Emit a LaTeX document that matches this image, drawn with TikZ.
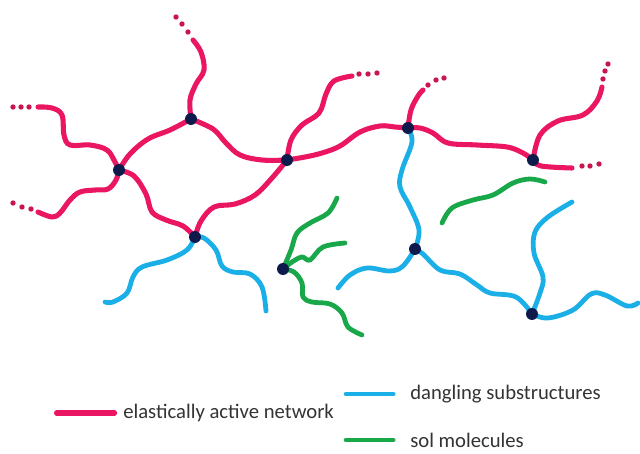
\documentclass[tikz,border=0pt]{standalone}
\usepackage{fontspec}
\setmainfont{Carlito}
\usetikzlibrary{positioning}
\pgfdeclarelayer{chains}
\pgfsetlayers{chains,main}
\definecolor{netred}{HTML}{EA1662}
\definecolor{tipred}{HTML}{C8164E}
\definecolor{dangblue}{HTML}{1AAFE6}
\definecolor{solgreen}{HTML}{18A84A}
\definecolor{xlink}{HTML}{0E1A4C}
\definecolor{lgdtext}{HTML}{333333}
\tikzset{
  strand/.style={line width=3.6pt, line cap=round, line join=round},
  active/.style={strand, draw=netred},
  dangling/.style={strand, draw=dangblue, line width=3.4pt},
  sol/.style={strand, draw=solgreen, line width=3.4pt},
  xlnk/.style={circle, fill=xlink, minimum size=8.5pt, inner sep=0pt},
  tipdot/.style={fill=tipred},
  lgd/.style={font=\fontsize{14.7}{17}\selectfont, text=lgdtext, anchor=west, inner sep=0pt},
  wavy/.style={smooth, tension=0.6},
}

\begin{document}
\begin{tikzpicture}[x=0.025cm, y=-0.025cm]
  \useasboundingbox (0,0) rectangle (640,454);

  % crosslinks
  \node[xlnk] (j1) at (119,170) {};
  \node[xlnk] (j2) at (191,119) {};
  \node[xlnk] (j3) at (287,160) {};
  \node[xlnk] (j4) at (195,237) {};
  \node[xlnk] (j5) at (408,128) {};
  \node[xlnk] (j6) at (533,160) {};
  \node[xlnk] (j7) at (415,249) {};
  \node[xlnk] (j8) at (532,314) {};
  \node[xlnk] (j9) at (283,269) {};

  \begin{pgfonlayer}{chains}
    % elastically active network
    \draw[active] plot[wavy] coordinates {(38,107) (52,108) (62,115) (64,135) (70,145) (90,145) (107,150) (115,162) (j1)};
    \draw[active] plot[wavy] coordinates {(38,212) (52,217) (60,213) (70,200) (80,192) (95,190) (108,189) (116,180) (j1)};
    \draw[active] plot[wavy] coordinates {(j1) (130,154) (148,139) (170,130) (j2)};
    \draw[active] plot[wavy] coordinates {(j2) (190,100) (196,84) (204,70) (201,52) (193,40)};
    \draw[active] plot[wavy] coordinates {(j2) (213,129) (226,143) (240,155) (262,160) (j3)};
    \draw[active] plot[wavy] coordinates {(j1) (134,176) (146,194) (152,212) (166,220) (183,226) (j4)};
    \draw[active] plot[wavy] coordinates {(j4) (201,221) (214,207) (235,204) (255,195) (272,178) (j3)};
    \draw[active] plot[wavy] coordinates {(j3) (291,140) (302,125) (319,113) (326,94) (334,81) (352,76)};
    \draw[active] plot[wavy] coordinates {(j3) (305,157) (322,153) (340,146) (360,132) (380,126) (395,127) (j5)};
    \draw[active] plot[wavy] coordinates {(j5) (411,110) (418,96) (423,90)};
    \draw[active] plot[wavy] coordinates {(j5) (420,128) (433,133) (448,143) (477,145) (507,147) (523,153) (j6)};
    \draw[active] plot[wavy] coordinates {(j6) (540,135) (558,121) (583,115) (597,101) (602,87)};
    \draw[active] plot[wavy] coordinates {(j6) (541,166) (572,168)};

    % dangling substructures
    \draw[dangling] plot[wavy] coordinates {(j4) (187,250) (167,260) (142,267) (133,277) (127,293) (113,302) (105,302)};
    \draw[dangling] plot[wavy] coordinates {(j4) (204,238) (216,250) (222,266) (233,272) (250,274) (262,287) (266,311)};
    \draw[dangling] plot[wavy] coordinates {(j5) (412,142) (402,170) (400,187) (410,207) (419,230) (j7)};
    \draw[dangling] plot[wavy] coordinates {(j7) (403,266) (390,271) (367,268) (350,275) (338,288)};
    \draw[dangling] plot[wavy] coordinates {(j7) (423,254) (440,270) (460,274) (477,285) (490,293) (516,297) (j8)};
    \draw[dangling] plot[wavy] coordinates {(j8) (540,293) (543,277) (534,253) (535,232) (548,217) (572,202)};
    \draw[dangling] plot[wavy] coordinates {(j8) (548,318) (573,310) (591,294) (605,295) (627,306) (638,303)};

    % sol molecules
    \draw[sol] plot[wavy] coordinates {(442,223) (452,208) (473,200) (493,195) (513,183) (530,179) (545,182)};
    \draw[sol] plot[wavy] coordinates {(j9) (291,250) (297,233) (310,223) (328,213) (337,198)};
    \draw[sol] plot[wavy] coordinates {(j9) (292,262) (302,257) (310,260) (323,247) (345,243)};
    \draw[sol] plot[wavy] coordinates {(j9) (294,272) (302,283) (303,297) (312,302) (330,304) (342,313) (348,327) (362,335)};
  \end{pgfonlayer}

  % chain continues
  \foreach \p in {(13,107),(21,107),(29,107),(13,203),(22,207),(31,209),
                  (188,32),(182,24),(176,17),(359,74),(368,74),(377,73),
                  (428,85),(436,80),(444,78),(603,79),(605,71),(608,64),
                  (582,166),(590,166),(599,164)}
    \fill[tipdot] \p circle (2.7);

  % legend
  \node[lgd] (lgA) at (123,413) {elastically active network};
  \node[lgd] (lgB) at (410,394) {dangling substructures};
  \node[lgd] (lgC) at (410,440) {sol molecules};
  \draw[active] ([xshift=-6pt]lgA.west) -- ++(-58,0);
  \draw[dangling] ([xshift=-12pt]lgB.west) -- ++(-47,0);
  \draw[dangling, draw=solgreen] ([xshift=-12pt]lgC.west) -- ++(-47,0);
\end{tikzpicture}
\end{document}
